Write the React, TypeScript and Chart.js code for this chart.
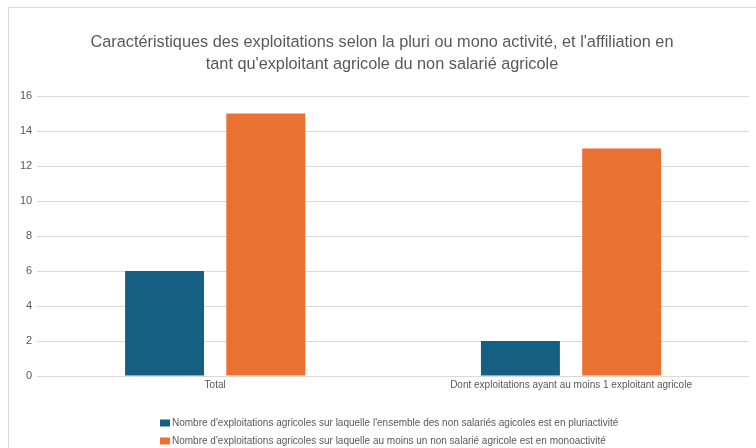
import React, { useEffect, useRef } from "react";
import { Chart, registerables } from "chart.js";

Chart.register(...registerables);

const categories = ["Total", "Dont exploitations ayant au moins 1 exploitant agricole"];
const seriesNames = [
  "Nombre d'exploitations agricoles sur laquelle l'ensemble des non salariés agicoles est en pluriactivité",
  "Nombre d'exploitations agricoles sur laquelle au moins un non salarié agricole est en monoactivité",
];
const pluriValues = [6, 2];
const monoValues = [15, 13];
const seriesColors = ["#156082", "#E97132"];
const titleLines = [
  "Caractéristiques des exploitations selon la pluri ou mono activité, et l'affiliation en",
  "tant qu'exploitant agricole du non salarié agricole",
];
const yMax = 16;
const yStep = 2;

const FONT = "'Liberation Sans Narrow', 'Arial Narrow', 'Liberation Sans', sans-serif";
const TEXT = "#595959";

const legendPlugin = {
  id: "stackedLegend",
  afterDraw(chart: any) {
    const ctx = chart.ctx;
    ctx.save();
    ctx.font = `10px ${FONT}`;
    ctx.textBaseline = "middle";
    ctx.textAlign = "left";
    chart.data.datasets.forEach((ds: any, i: number) => {
      const y = 416 + i * 18;
      ctx.fillStyle = ds.backgroundColor;
      ctx.fillRect(152, y - 3.5, 10, 7);
      ctx.fillStyle = TEXT;
      ctx.fillText(ds.label, 164, y);
    });
    ctx.restore();
  },
};

export default function App() {
  const ref = useRef<HTMLCanvasElement>(null);
  useEffect(() => {
    const chart = new Chart(ref.current!, {
      type: "bar",
      data: {
        labels: categories,
        datasets: [
          { label: seriesNames[0], data: pluriValues, backgroundColor: seriesColors[0] },
          { label: seriesNames[1], data: monoValues, backgroundColor: seriesColors[1] },
        ],
      },
      options: {
        animation: false,
        responsive: false,
        maintainAspectRatio: false,
        devicePixelRatio: 1,
        datasets: { bar: { categoryPercentage: 0.569, barPercentage: 0.78 } },
        layout: { padding: { left: 7, right: 11, top: 0, bottom: 54 } },
        plugins: {
          legend: { display: false },
          tooltip: { enabled: false },
          title: {
            display: true,
            text: titleLines,
            color: TEXT,
            font: { family: FONT, size: 16.3, weight: "normal", lineHeight: 1.35 },
            padding: { top: 25, bottom: 20 },
          },
        },
        scales: {
          x: {
            grid: { display: false, drawTicks: false },
            border: { display: false },
            ticks: { color: TEXT, font: { family: FONT, size: 10 }, padding: 3, maxRotation: 0 },
          },
          y: {
            min: 0,
            max: yMax,
            ticks: { stepSize: yStep, color: TEXT, font: { family: FONT, size: 11 }, padding: 5 },
            grid: { color: "#d9d9d9", drawTicks: false, lineWidth: 1 },
            border: { display: false },
          },
        },
      },
      plugins: [legendPlugin],
    });
    return () => chart.destroy();
  }, []);
  return (
    <div style={{ position: "fixed", left: 0, top: 0, width: 756, height: 448, overflow: "hidden", background: "#fff" }}>
      <div style={{ position: "absolute", left: 8, top: 7, width: 800, height: 1, background: "#d9d9d9" }} />
      <div style={{ position: "absolute", left: 8, top: 7, width: 1, height: 500, background: "#d9d9d9" }} />
      <canvas ref={ref} width={752} height={441} style={{ position: "absolute", left: 8, top: 7, width: 752, height: 441 }} />
    </div>
  );
}
